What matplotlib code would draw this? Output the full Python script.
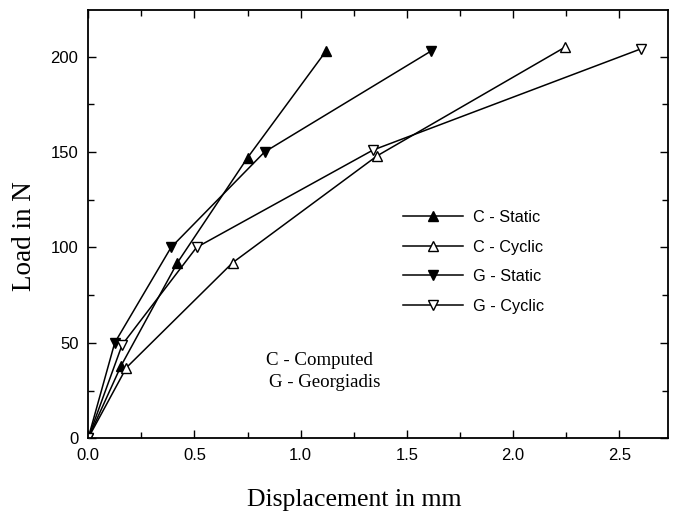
import matplotlib
matplotlib.use("Agg")
import matplotlib.pyplot as plt
from matplotlib.ticker import MultipleLocator

# Valeurs (déplacement en mm, charge en N)
c_static_x = [0.0, 0.155, 0.42, 0.75, 1.12]
c_static_y = [0, 38, 92, 147, 203]
c_cyclic_x = [0.0, 0.18, 0.68, 1.36, 2.245]
c_cyclic_y = [0, 37, 92, 148, 205]
g_static_x = [0.0, 0.125, 0.39, 0.83, 1.615]
g_static_y = [0, 50, 100, 150, 203]
g_cyclic_x = [0.0, 0.16, 0.51, 1.34, 2.60]
g_cyclic_y = [0, 49, 100, 151, 204]

x_ticks = [0.0, 0.5, 1.0, 1.5, 2.0, 2.5]
x_tick_labels = ["0.0", "0.5", "1.0", "1.5", "2.0", "2.5"]
y_ticks = [0, 50, 100, 150, 200]

serif = ["Liberation Serif", "DejaVu Serif"]
sans = ["Liberation Sans", "DejaVu Sans"]

fig = plt.figure(figsize=(6.73, 5.18), dpi=100)
ax = fig.add_axes([0.131, 0.154, 0.862, 0.827])

kw = dict(color="black", lw=1.1, markersize=7.5, markeredgewidth=1.0)
ax.plot(c_static_x, c_static_y, marker="^", mfc="black", mec="black", label="C - Static", **kw)
ax.plot(c_cyclic_x, c_cyclic_y, marker="^", mfc="white", mec="black", label="C - Cyclic", **kw)
ax.plot(g_static_x, g_static_y, marker="v", mfc="black", mec="black", label="G - Static", **kw)
ax.plot(g_cyclic_x, g_cyclic_y, marker="v", mfc="white", mec="black", label="G - Cyclic", **kw)

ax.set_xlim(0, 2.73)
ax.set_ylim(0, 224.5)
ax.set_xticks(x_ticks)
ax.set_xticklabels(x_tick_labels, family=sans, fontsize=12)
ax.set_yticks(y_ticks)
ax.set_yticklabels([str(v) for v in y_ticks], family=sans, fontsize=12)
ax.xaxis.set_minor_locator(MultipleLocator(0.25))
ax.yaxis.set_minor_locator(MultipleLocator(25))
ax.tick_params(which="both", direction="in", top=True, right=True, width=1, pad=7)
ax.tick_params(which="major", length=6)
ax.tick_params(which="minor", length=4)
for s in ax.spines.values():
    s.set_linewidth(1.3)

ax.set_xlabel("Displacement in mm", family=serif, fontsize=18.5)
ax.xaxis.set_label_coords(0.458, -0.119)
ax.set_ylabel("Load in N", family=serif, fontsize=19.5)
ax.yaxis.set_label_coords(-0.088, 0.472)

leg = ax.legend(loc="upper left", bbox_to_anchor=(0.529, 0.552), frameon=False,
                borderpad=0, handlelength=3.7, handletextpad=0.6, labelspacing=0.9,
                prop={"family": sans, "size": 11.7})

ax.text(0.307, 0.181, "C - Computed", transform=ax.transAxes, family=serif,
        fontsize=13.6, va="center")
ax.text(0.312, 0.131, "G - Georgiadis", transform=ax.transAxes, family=serif,
        fontsize=13.6, va="center")

fig.savefig("out.png", dpi=100)
